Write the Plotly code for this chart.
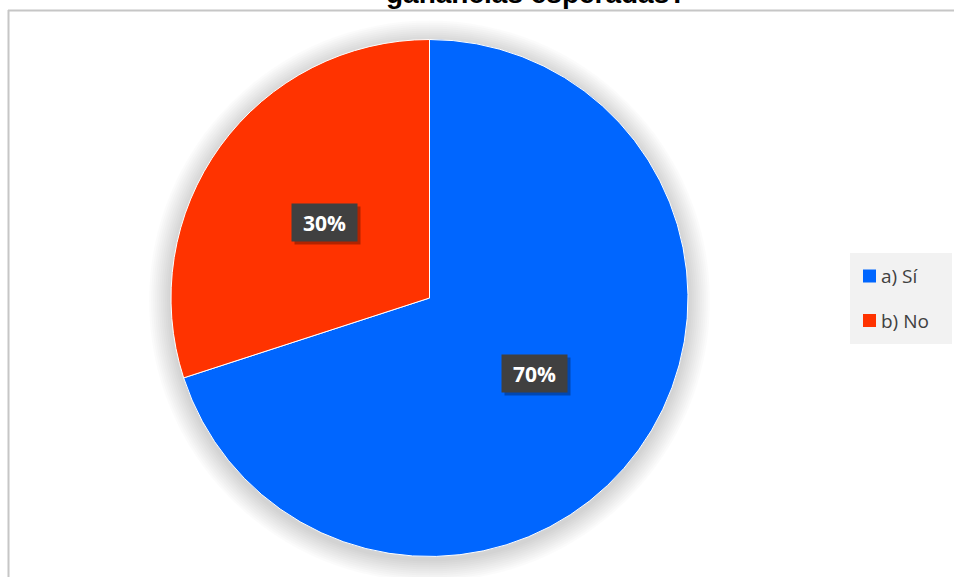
import math
import plotly.graph_objects as go

# Survey answers and their shares
categories = ["a) Sí", "b) No"]
values = [70, 30]
colors = ["#0066FF", "#FF3300"]
title_text = "ganancias esperadas?"

W, H = 954, 577


def px(x):
    return x / W


def py(y):
    return 1 - y / H


# pie geometry in pixels
cx, cy, r = 429.5, 298.0, 258.5

fig = go.Figure()
fig.add_trace(go.Pie(
    labels=categories,
    values=values,
    marker=dict(colors=colors, line=dict(color="white", width=1)),
    sort=False,
    direction="clockwise",
    rotation=0,
    textinfo="none",
    hoverinfo="label+percent",
    showlegend=False,
    domain=dict(x=[px(cx - r), px(cx + r)], y=[py(cy + r), py(cy - r)]),
))

shapes = []
# soft shadow around the pie
for k in range(2, 24, 2):
    shapes.append(dict(
        type="circle", xref="paper", yref="paper", layer="below",
        x0=px(cx - r - k), x1=px(cx + r + k),
        y0=py(cy + 3 + r + k), y1=py(cy + 3 - r - k),
        fillcolor="rgba(0,0,0,0.014)", line=dict(width=0),
    ))

# chart frame (left and top edges)
shapes.append(dict(type="line", xref="paper", yref="paper",
                   x0=px(8.5), x1=px(8.5), y0=py(10), y1=py(H),
                   line=dict(color="#C6C6C6", width=2)))
shapes.append(dict(type="line", xref="paper", yref="paper",
                   x0=px(8), x1=px(W), y0=py(10.5), y1=py(10.5),
                   line=dict(color="#C6C6C6", width=2)))

# legend box
shapes.append(dict(type="rect", xref="paper", yref="paper",
                   x0=px(850), x1=px(952), y0=py(344), y1=py(253),
                   fillcolor="#F2F2F2", line=dict(width=0)))

annotations = []
row_y = [276, 320.5]
for lab, col, yy in zip(categories, colors, row_y):
    shapes.append(dict(type="rect", xref="paper", yref="paper",
                       x0=px(863), x1=px(876), y0=py(yy + 6.5), y1=py(yy - 6.5),
                       fillcolor=col, line=dict(width=0)))
    annotations.append(dict(
        text=lab, xref="paper", yref="paper", x=px(879), y=py(yy),
        xanchor="left", yanchor="middle", showarrow=False,
        font=dict(family="Open Sans", size=19, color="#404040"),
    ))

# percentage labels, placed halfway out along each slice's middle angle
total = sum(values)
start = 0.0
for v in values:
    frac = v / total
    mid = (start + frac / 2) * 2 * math.pi
    start += frac
    lx = cx + 0.5 * r * math.sin(mid)
    ly = cy - 0.5 * r * math.cos(mid)
    label = f"{round(frac * 100)}%"
    # drop shadow
    annotations.append(dict(
        text="", xref="paper", yref="paper", x=px(lx), y=py(ly),
        xshift=3, yshift=-3, width=63, height=35, showarrow=False,
        bgcolor="rgba(0,0,0,0.3)",
    ))
    annotations.append(dict(
        text=f"<b>{label}</b>", xref="paper", yref="paper", x=px(lx), y=py(ly),
        width=63, height=35, showarrow=False, bgcolor="#404040",
        font=dict(family="Open Sans", size=21, color="white"),
    ))

# title, running off the top edge
annotations.append(dict(
    text=f"<b>{title_text}</b>", xref="paper", yref="paper",
    x=px(536), y=py(11), xanchor="center", yanchor="bottom", showarrow=False,
    font=dict(family="Liberation Sans, Arial", size=28, color="black"),
))

fig.update_layout(
    width=W, height=H,
    margin=dict(l=0, r=0, t=0, b=0),
    paper_bgcolor="white",
    plot_bgcolor="white",
    shapes=shapes,
    annotations=annotations,
)

fig.write_html("out.html")
